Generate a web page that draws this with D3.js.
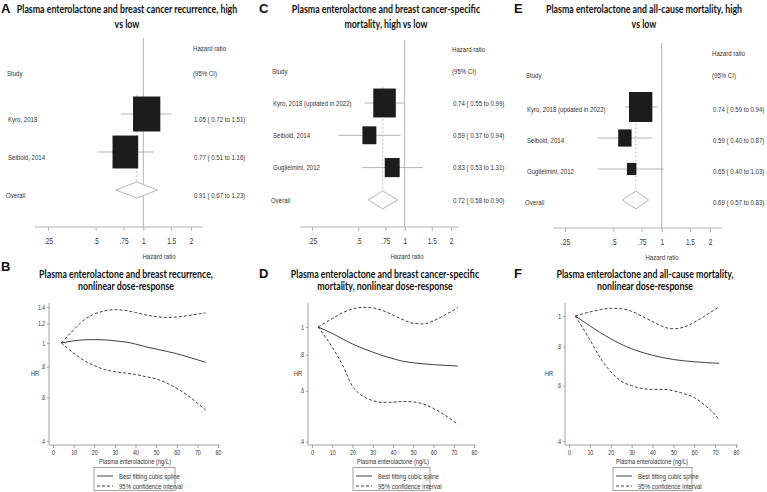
<!DOCTYPE html>
<html>
<head>
<meta charset="utf-8">
<script src="https://cdn.jsdelivr.net/npm/d3@7"></script>
<style>
  body { margin: 0; background: #fff; }
  svg { display: block; }
</style>
</head>
<body>
<div id="chart"></div>
<script>
// ---- data: forest plots (high vs low) ----
const A_STUDIES = ['Kyro, 2018', 'Seibold, 2014']
const A_HR = [1.05, 0.77]
const A_LO = [0.72, 0.51]
const A_HI = [1.51, 1.16]
const A_WEIGHT = [53, 47]
const A_OVERALL = [0.91, 0.67, 1.23]

const C_STUDIES = ['Kyro, 2018 (updated in 2022)', 'Seibold, 2014', 'Guglielmini, 2012']
const C_HR = [0.74, 0.59, 0.83]
const C_LO = [0.55, 0.37, 0.53]
const C_HI = [0.99, 0.94, 1.31]
const C_WEIGHT = [55, 21, 24]
const C_OVERALL = [0.72, 0.58, 0.90]

const E_STUDIES = ['Kyro, 2018 (updated in 2022)', 'Seibold, 2014', 'Guglielmini, 2012']
const E_HR = [0.74, 0.59, 0.65]
const E_LO = [0.59, 0.40, 0.40]
const E_HI = [0.94, 0.87, 1.03]
const E_WEIGHT = [67, 22, 11]
const E_OVERALL = [0.69, 0.57, 0.83]

const HR_TICKS = [0.25, 0.5, 0.75, 1, 1.5, 2]

// ---- data: nonlinear dose-response (plasma enterolactone, ng/L) ----
const B_DOSE = [4, 10, 15, 20, 25, 30, 35, 40, 45, 50, 55, 60, 65, 70, 74]
const B_FIT = [1.0, 1.02, 1.03, 1.032, 1.03, 1.02, 1.01, 0.99, 0.965, 0.945, 0.925, 0.905, 0.88, 0.855, 0.835]
const B_UPPER = [1.0, 1.13, 1.24, 1.31, 1.35, 1.365, 1.355, 1.33, 1.30, 1.28, 1.27, 1.275, 1.29, 1.31, 1.325]
const B_LOWER = [1.0, 0.91, 0.85, 0.81, 0.78, 0.765, 0.755, 0.745, 0.73, 0.715, 0.688, 0.655, 0.615, 0.57, 0.535]

const D_DOSE = [3, 10, 15, 20, 25, 30, 35, 40, 45, 50, 55, 60, 65, 70, 72]
const D_FIT = [1.0, 0.95, 0.91, 0.873, 0.843, 0.818, 0.795, 0.776, 0.76, 0.751, 0.745, 0.74, 0.736, 0.733, 0.731]
const D_UPPER = [1.0, 1.07, 1.12, 1.155, 1.17, 1.165, 1.14, 1.10, 1.06, 1.03, 1.025, 1.05, 1.095, 1.145, 1.17]
const D_LOWER = [1.0, 0.85, 0.74, 0.622, 0.576, 0.555, 0.547, 0.548, 0.551, 0.549, 0.54, 0.521, 0.497, 0.47, 0.459]

const F_DOSE = [3, 10, 15, 20, 25, 30, 35, 40, 45, 50, 55, 60, 65, 70, 72]
const F_FIT = [1.0, 0.93, 0.885, 0.846, 0.813, 0.787, 0.766, 0.75, 0.737, 0.727, 0.72, 0.715, 0.711, 0.708, 0.707]
const F_UPPER = [1.0, 1.03, 1.048, 1.058, 1.055, 1.035, 0.998, 0.96, 0.925, 0.91, 0.922, 0.955, 1.0, 1.05, 1.07]
const F_LOWER = [1.0, 0.84, 0.735, 0.665, 0.62, 0.6, 0.588, 0.584, 0.584, 0.578, 0.566, 0.55, 0.52, 0.485, 0.467]

const DOSE_TICKS = [0, 10, 20, 30, 40, 50, 60, 70, 80]
const B_HR_TICKS = [0.4, 0.6, 0.8, 1, 1.2, 1.4]
const DF_HR_TICKS = [0.4, 0.6, 0.8, 1]

// ---- style ----
const W = 767
const H = 492
const SX = 0.76
const SMALL = '"Liberation Sans", Arial, sans-serif'
const TITLE = 'Lato, "Open Sans", sans-serif'
const TEXT = '#333333'
const LIGHT = '#b4b4b4'
const AXIS = '#a0a0a0'
const INK = '#1c1c1c'

const fmtHR = (d) => String(d).replace(/^0\./, '.')
const fmtCI = (hr, lo, hi) => `${hr.toFixed(2)} ( ${lo.toFixed(2)} to ${hi.toFixed(2)})`

const svg = d3.select('#chart').append('svg')
  .attr('width', W)
  .attr('height', H)
  .attr('viewBox', `0 0 ${W} ${H}`)

function txt(g, x, y, s, { size = 8, anchor = 'start', weight = 400, family = SMALL, fill = TEXT, sx = SX } = {}) {
  return g.append('text')
    .attr('transform', `translate(${x},${y}) scale(${sx},1)`)
    .attr('dy', '0.35em')
    .attr('text-anchor', anchor)
    .style('font-family', family)
    .style('font-size', `${size}px`)
    .style('font-weight', weight)
    .attr('fill', fill)
    .text(s)
}

function panelHead(g, letter, lines, letterPos, cx, ys) {
  txt(g, letterPos[0], letterPos[1], letter, { size: 13, weight: 700, family: 'Arial, "Liberation Sans", sans-serif', fill: '#111', sx: 1 })
  lines.forEach((line, i) => {
    txt(g, cx, ys[i], line, { size: 11, weight: 700, family: TITLE, fill: '#111', anchor: 'middle', sx: 0.8 })
  })
}

// ---- forest panels ----
const forestPanels = [
  {
    letter: 'A', lines: ['Plasma enterolactone and breast cancer recurrence, high', 'vs low'],
    letterPos: [1, 8], titleX: 127, titleY: [9, 24],
    studies: A_STUDIES, hr: A_HR, lo: A_LO, hi: A_HI, weight: A_WEIGHT, overall: A_OVERALL,
    range: [48, 191], span: [35, 203], axisY: 227, refTop: 38,
    rowY0: 114, rowStep: 38, textDy: 5, labelX: 8, valueX: 194,
    headY: [48, 73], boxMax: 48, diamondH: 16, axisTitleX: 159,
  },
  {
    letter: 'C', lines: ['Plasma enterolactone and breast cancer-specific', 'mortality, high vs low'],
    letterPos: [259, 8], titleX: 386, titleY: [9, 24],
    studies: C_STUDIES, hr: C_HR, lo: C_LO, hi: C_HI, weight: C_WEIGHT, overall: C_OVERALL,
    range: [312, 451], span: [300, 459], axisY: 227, refTop: 40,
    rowY0: 103, rowStep: 32.3, textDy: 0, labelX: 273, valueX: 453,
    headY: [49, 71], boxMax: 39, diamondH: 18, axisTitleX: 407,
  },
  {
    letter: 'E', lines: ['Plasma enterolactone and all-cause mortality, high', 'vs low'],
    letterPos: [514, 8], titleX: 644, titleY: [9, 24],
    studies: E_STUDIES, hr: E_HR, lo: E_LO, hi: E_HI, weight: E_WEIGHT, overall: E_OVERALL,
    range: [565, 710], span: [553, 722], axisY: 228, refTop: 43,
    rowY0: 107, rowStep: 31, textDy: 2, labelX: 527, valueX: 713,
    headY: [53, 75], boxMax: 36.6, diamondH: 18, axisTitleX: 662,
  },
]

forestPanels.forEach((p) => {
  const g = svg.append('g')
  panelHead(g, p.letter, p.lines, p.letterPos, p.titleX, p.titleY)

  const x = d3.scaleLog().domain([0.25, 2]).range(p.range)
  const n = p.studies.length
  const y = d3.scaleLinear().domain([0, n]).range([p.rowY0, p.rowY0 + n * p.rowStep])
  const side = d3.scaleSqrt().domain([0, 100]).range([0, p.boxMax])
  const rows = p.studies.map((s, i) => ({ study: s, hr: p.hr[i], lo: p.lo[i], hi: p.hi[i], w: p.weight[i] }))
  const [ohr, olo, ohi] = p.overall

  // headers
  txt(g, p.labelX - 1, p.headY[1], 'Study')
  txt(g, p.valueX - 1, p.headY[0], 'Hazard ratio')
  txt(g, p.valueX - 1, p.headY[1], '(95% CI)')

  // reference line at HR = 1
  g.append('line')
    .attr('x1', x(1)).attr('x2', x(1))
    .attr('y1', p.refTop).attr('y2', p.axisY)
    .attr('stroke', LIGHT).attr('stroke-width', 1)

  // overall estimate line
  g.append('line')
    .attr('x1', x(ohr)).attr('x2', x(ohr))
    .attr('y1', y(0) - p.rowStep * 0.5).attr('y2', y(n))
    .attr('stroke', LIGHT).attr('stroke-width', 0.8)
    .attr('stroke-dasharray', '2,2')

  // confidence intervals
  g.selectAll('line.ci').data(rows).join('line')
    .attr('class', 'ci')
    .attr('x1', (d) => x(d.lo)).attr('x2', (d) => x(d.hi))
    .attr('y1', (d, i) => y(i)).attr('y2', (d, i) => y(i))
    .attr('stroke', LIGHT).attr('stroke-width', 1)

  // weighted boxes
  g.selectAll('rect.box').data(rows).join('rect')
    .attr('class', 'box')
    .attr('x', (d) => x(d.hr) - side(d.w) * 0.78 / 2)
    .attr('y', (d, i) => y(i) - side(d.w) / 2)
    .attr('width', (d) => side(d.w) * 0.78)
    .attr('height', (d) => side(d.w))
    .attr('fill', INK)

  // overall diamond
  const yo = y(n)
  const hd = p.diamondH / 2
  g.append('path')
    .attr('d', `M${x(olo)},${yo}L${x(ohr)},${yo - hd}L${x(ohi)},${yo}L${x(ohr)},${yo + hd}Z`)
    .attr('fill', '#fff').attr('stroke', LIGHT).attr('stroke-width', 1)

  // row labels and values
  rows.forEach((d, i) => {
    txt(g, p.labelX, y(i) + p.textDy, d.study)
    txt(g, p.valueX, y(i) + p.textDy, fmtCI(d.hr, d.lo, d.hi))
  })
  txt(g, p.labelX - 2, yo + p.textDy, 'Overall')
  txt(g, p.valueX, yo + p.textDy, fmtCI(ohr, olo, ohi))

  // x axis
  g.append('line')
    .attr('x1', p.span[0]).attr('x2', p.span[1])
    .attr('y1', p.axisY).attr('y2', p.axisY)
    .attr('stroke', LIGHT)
  const ax = g.append('g')
    .attr('transform', `translate(0,${p.axisY})`)
    .call(d3.axisBottom(x).tickValues(HR_TICKS).tickFormat(fmtHR).tickSize(4).tickPadding(7))
  ax.select('.domain').remove()
  ax.selectAll('line').attr('stroke', LIGHT)
  ax.selectAll('text')
    .attr('fill', TEXT)
    .style('font-family', SMALL)
    .style('font-size', '8.5px')
    .attr('transform', `scale(${SX},1)`)
  txt(g, p.axisTitleX, p.axisY + 29, 'Hazard ratio', { anchor: 'middle' })
})

// ---- dose-response panels ----
const dosePanels = [
  {
    letter: 'B', lines: ['Plasma enterolactone and breast recurrence,', 'nonlinear dose-response'],
    letterPos: [1, 266], titleX: 126, titleY: [274, 286],
    dose: B_DOSE, fit: B_FIT, upper: B_UPPER, lower: B_LOWER, yTicks: B_HR_TICKS,
    xRange: [53, 218], xSpan: [49, 220], yDomain: [0.4, 1.4], yRange: [441, 307],
    hrX: 35, labelX: 135, legend: [94, 175],
  },
  {
    letter: 'D', lines: ['Plasma enterolactone and breast cancer-specific', 'mortality, nonlinear dose-response'],
    letterPos: [259, 273], titleX: 385, titleY: [274, 286],
    dose: D_DOSE, fit: D_FIT, upper: D_UPPER, lower: D_LOWER, yTicks: DF_HR_TICKS,
    xRange: [312, 474], xSpan: [308, 476], yDomain: [0.4, 1], yRange: [441.5, 327],
    hrX: 298, labelX: 393, legend: [353, 430],
  },
  {
    letter: 'F', lines: ['Plasma enterolactone and all-cause mortality,', 'nonlinear dose-response'],
    letterPos: [514, 273], titleX: 645, titleY: [274, 286],
    dose: F_DOSE, fit: F_FIT, upper: F_UPPER, lower: F_LOWER, yTicks: DF_HR_TICKS,
    xRange: [569, 736], xSpan: [565, 738], yDomain: [0.4, 1], yRange: [441, 316],
    hrX: 549, labelX: 652, legend: [613, 692],
  },
]

const PLOT_TOP = 303
const PLOT_BOTTOM = 445

dosePanels.forEach((p) => {
  const g = svg.append('g')
  panelHead(g, p.letter, p.lines, p.letterPos, p.titleX, p.titleY)

  const x = d3.scaleLinear().domain([0, 80]).range(p.xRange)
  const y = d3.scaleLog().domain(p.yDomain).range(p.yRange)

  // axes
  g.append('line')
    .attr('x1', p.xSpan[0]).attr('x2', p.xSpan[0])
    .attr('y1', PLOT_TOP).attr('y2', PLOT_BOTTOM)
    .attr('stroke', AXIS)
  g.append('line')
    .attr('x1', p.xSpan[0]).attr('x2', p.xSpan[1])
    .attr('y1', PLOT_BOTTOM).attr('y2', PLOT_BOTTOM)
    .attr('stroke', AXIS)

  const yAx = g.append('g')
    .attr('transform', `translate(${p.xSpan[0]},0)`)
    .call(d3.axisLeft(y).tickValues(p.yTicks).tickFormat(fmtHR).tickSize(2).tickPadding(2))
  yAx.select('.domain').remove()
  yAx.selectAll('line').attr('stroke', AXIS)
  yAx.selectAll('text')
    .attr('fill', TEXT)
    .style('font-family', SMALL)
    .style('font-size', '6.5px')
    .attr('x', null)
    .attr('transform', `translate(-4,0) scale(${SX},1)`)

  const xAx = g.append('g')
    .attr('transform', `translate(0,${PLOT_BOTTOM})`)
    .call(d3.axisBottom(x).tickValues(DOSE_TICKS).tickSize(3))
  xAx.select('.domain').remove()
  xAx.selectAll('line').attr('stroke', AXIS)
  xAx.selectAll('text')
    .attr('fill', TEXT)
    .style('font-family', SMALL)
    .style('font-size', '7px')
    .attr('y', 7.5)
    .attr('dy', '0.35em')
    .attr('transform', `scale(${SX},1)`)

  txt(g, p.hrX, 373, 'HR', { size: 7.5, anchor: 'middle' })
  txt(g, p.labelX, 461.5, 'Plasma enterolactone (ng/L)', { size: 7, anchor: 'middle', sx: 0.82 })

  // curves
  const line = d3.line()
    .x((d) => x(d[0]))
    .y((d) => y(d[1]))
    .curve(d3.curveMonotoneX)
  const series = [
    { values: p.fit, dash: null },
    { values: p.upper, dash: '3,2' },
    { values: p.lower, dash: '3,2' },
  ]
  g.selectAll('path.curve').data(series).join('path')
    .attr('class', 'curve')
    .attr('d', (s) => line(p.dose.map((v, i) => [v, s.values[i]])))
    .attr('fill', 'none')
    .attr('stroke', '#2a2a2a')
    .attr('stroke-width', 0.9)
    .attr('stroke-dasharray', (s) => s.dash)

  // legend
  const [l0, l1] = p.legend
  g.append('rect')
    .attr('x', l0).attr('y', 467.5)
    .attr('width', l1 - l0).attr('height', 23)
    .attr('fill', '#fff').attr('stroke', '#8a8a8a').attr('stroke-width', 0.8)
  const items = [
    { label: 'Best fitting cubic spline', dash: null, y: 476 },
    { label: '95% confidence interval', dash: '3,2', y: 486 },
  ]
  items.forEach((it) => {
    g.append('line')
      .attr('x1', l0 + 3).attr('x2', l0 + 19)
      .attr('y1', it.y).attr('y2', it.y)
      .attr('stroke', '#2a2a2a').attr('stroke-width', 0.9)
      .attr('stroke-dasharray', it.dash)
    txt(g, l0 + 25, it.y, it.label, { size: 7.5, sx: 0.8 })
  })
})
</script>
</body>
</html>
